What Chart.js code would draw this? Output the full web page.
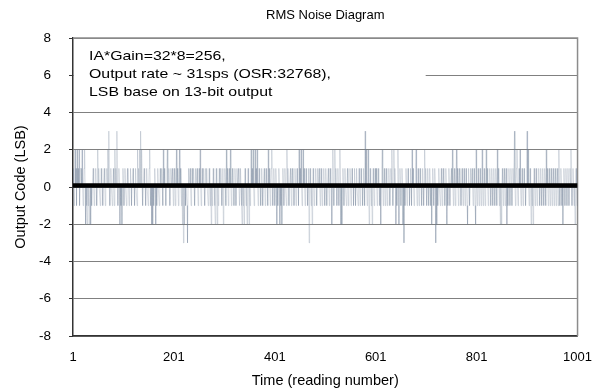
<!DOCTYPE html>
<html>
<head>
<meta charset="utf-8">
<script src="https://cdn.jsdelivr.net/npm/chart.js@4.4.1/dist/chart.umd.min.js"></script>
<style>
  html, body { margin: 0; padding: 0; background: #fff; }
  #wrap { width: 598px; height: 392px; }
</style>
</head>
<body>
<div id="wrap"><canvas id="graphique-bruit"></canvas></div>
<script>
/* Valeurs (code de sortie, LSB), lecture 1 à 1001 */
const noiseCodes = [
  1,0,-1,0,2,0,1,-1,2,0, 1,0,2,-1,0,1,1,0,2,0, -1,0,1,2,0,-2,0,-1,-2,0, -1,0,-2,-1,0,-2,0,-1,0,0, 1,0,-1,0,0,1,0,-1,0,2,
  0,1,0,0,-1,0,1,0,0,-1, 0,0,1,0,-1,0,0,1,0,2, 0,3,0,-1,0,1,0,0,-1,0, 1,0,-1,2,0,1,0,3,0,-1, 0,1,0,-2,0,-1,0,-2,0,1,
  0,-1,0,1,0,0,-1,0,1,0, 0,-1,0,0,1,0,-1,0,0,1, 0,0,-1,0,1,0,0,-1,2,0, 1,0,2,0,3,0,2,0,-1,0, 0,1,0,0,-1,0,1,0,0,-1,
  0,1,2,0,-1,0,-2,0,-2,0, -1,0,1,0,-2,0,-1,0,1,0, 0,-1,0,1,0,0,1,0,-1,2, 0,1,0,0,-1,0,1,2,0,0, 1,0,-1,0,1,0,0,1,0,-1,
  0,1,0,-1,0,2,0,1,0,-1, 0,2,0,1,0,-1,0,-2,0,-3, 0,-2,0,-1,0,0,-1,-3,0,1, 0,0,1,0,-1,0,1,0,0,1, 0,-1,0,1,0,0,1,0,-1,0,
  1,0,2,0,-1,0,1,0,0,1, 0,-1,0,1,0,1,0,0,-1,0, 1,0,-1,0,-2,0,-1,0,1,0, 0,-1,-2,0,1,0,-2,0,-1,0, 1,0,0,1,0,-1,0,1,-2,0,
  0,1,0,-1,2,0,1,0,-1,0, 1,0,2,0,-1,0,1,0,0,-1, 0,1,0,-1,0,1,0,0,1,0, -1,0,1,0,-1,-2,0,-1,0,-2, 0,1,0,-1,0,-2,0,1,0,-2,
  0,-1,0,2,0,1,0,2,0,-1, 0,2,0,1,0,2,0,-1,0,1, 0,0,-1,0,1,0,-1,0,0,1, 0,-1,0,1,0,0,-1,2,0,1, 0,-1,0,1,2,0,-1,0,1,0,
  -1,0,1,0,-2,0,-1,0,1,0, -2,0,-1,0,-2,0,1,0,-1,0, 1,0,0,-1,2,0,1,0,-1,0, 0,1,0,-1,0,1,0,0,-1,0, 1,0,-1,0,1,0,0,-1,2,0,
  1,0,2,0,-1,0,2,0,1,0, -1,0,1,0,0,-1,0,1,-3,0, 1,0,-1,0,-2,0,1,0,-1,0, 0,1,0,-1,0,1,0,0,1,0, -1,0,1,0,-1,0,0,1,0,-1,
  0,1,0,-1,0,0,1,0,-1,0, 1,0,0,-2,0,2,0,-1,0,2, 0,1,0,-1,0,1,0,-1,0,2, 0,-2,0,-2,0,1,0,-1,0,1, 0,0,-1,0,1,0,-1,0,0,1,
  0,-1,0,1,0,0,-1,0,1,0, -1,0,1,0,0,-1,0,1,0,-1, 0,1,0,0,-1,0,1,0,-1,3, 0,2,0,-1,0,2,0,-2,0,1, 0,-1,0,-2,0,1,0,-1,0,1,
  0,1,0,-1,0,1,0,0,-1,0, -2,0,1,2,0,-1,0,1,0,-1, 0,1,0,-1,0,0,1,0,-1,0, 1,0,2,0,-1,0,2,0,1,0, -2,0,-1,0,2,0,-2,0,1,0,
  -1,0,1,0,-2,0,-3,0,-1,0, 1,0,-1,0,1,0,0,-1,0,1, 0,-1,2,0,1,0,-1,0,0,1, 2,0,-1,0,1,0,-1,0,1,0, 0,-1,0,1,0,-1,0,2,0,1,
  0,-1,0,1,0,-1,0,1,0,-1, 0,-2,0,1,0,-1,0,1,0,-3, 0,-2,0,-1,0,1,0,0,-1,0, 1,0,-1,0,1,0,0,-1,0,1, 0,-2,0,-1,0,1,0,-1,0,0,
  1,0,2,0,-1,0,1,0,-1,0, 2,0,1,0,-1,0,1,0,0,-1, 0,1,0,-1,0,1,0,-1,0,1, 0,-1,-2,0,1,0,-1,0,1,0, 0,1,0,-1,0,1,0,-1,-2,2,
  0,-1,0,1,0,-1,0,1,0,-1, 0,2,0,-1,0,1,0,-1,0,2, 0,1,0,-1,0,0,1,0,-1,0, 1,0,-1,0,1,0,-1,0,1,0, -1,2,0,1,0,-1,0,-2,0,-2,
  0,1,0,-1,0,1,0,-1,0,1, -2,0,-1,0,1,0,-1,0,1,0, -1,0,1,0,1,3,0,-1,0,1, 2,0,-1,0,1,0,2,0,-1,0, 1,0,-1,0,1,0,0,-1,0,1,
  3,0,2,0,-1,0,1,0,-2,0, -1,0,-2,0,1,0,-1,0,1,0, -1,0,0,1,0,-1,0,1,0,-1, 0,1,0,-1,0,1,0,-1,2,0, 1,0,-1,0,1,0,-1,0,1,0,
  -1,0,1,0,-1,0,1,0,-1,0, 1,0,-1,2,0,-1,0,1,0,-1, 0,-2,0,1,0,-1,0,1,0,-1, 0,1,0,-1,0,1,0,2,0,-1, 0,1,0,-1,0,-2,0,1,0,-1,
  0
];

/* Moyenne (trait noir épais) */
const meanCode = 0.08;

/* Graduations */
const xTickValues = [1, 201, 401, 601, 801, 1001];
const yMin = -8;
const yMax = 8;
const yStep = 2;

/* Texte de l'encadré */
const noteLines = [
  'IA*Gain=32*8=256,',
  'Output rate ~ 31sps (OSR:32768),',
  'LSB base on 13-bit output'
];

const police = 'Arial, "Liberation Sans", sans-serif';

// Encadré blanc + cadre haut/droit gris
const encadrePlugin = {
  id: 'encadre',
  beforeDatasetsDraw(chart) {
    const {ctx, chartArea, scales} = chart;
    const x = scales.x;
    const y = scales.y;
    ctx.save();
    // le fond blanc masque la grille à 6
    ctx.fillStyle = '#fff';
    const x0 = chartArea.left + 1;
    const x1 = x.getPixelForValue(700);
    const yTop = y.getPixelForValue(7.9);
    const yBas = y.getPixelForValue(4.5);
    ctx.fillRect(x0, yTop, x1 - x0, yBas - yTop);
    // cadre haut et droit
    ctx.strokeStyle = '#8c8c8c';
    ctx.lineWidth = 1.5;
    ctx.beginPath();
    ctx.moveTo(chartArea.left, chartArea.top);
    ctx.lineTo(chartArea.right, chartArea.top);
    ctx.lineTo(chartArea.right, chartArea.bottom);
    ctx.stroke();
    ctx.restore();
  },
  afterDatasetsDraw(chart) {
    const {ctx, chartArea, scales} = chart;
    ctx.save();
    ctx.fillStyle = '#000';
    ctx.textBaseline = 'middle';
    ctx.font = '13px ' + police;
    const yPremier = scales.y.getPixelForValue(7.0);
    noteLines.forEach((ligne, i) => {
      ctx.save();
      ctx.translate(chartArea.left + 16, yPremier + i * 18);
      ctx.scale(1.22, 1);
      ctx.fillText(ligne, 0, 0);
      ctx.restore();
    });
    ctx.restore();
  }
};

const data = {
  datasets: [
    {
      label: 'Mean',
      data: [{x: xTickValues[0], y: meanCode}, {x: xTickValues[xTickValues.length - 1], y: meanCode}],
      borderColor: '#000',
      borderWidth: 4.5,
      pointRadius: 0
    },
    {
      label: 'Noise',
      data: noiseCodes.map((v, i) => ({x: i + 1, y: v})),
      borderColor: 'rgba(110, 125, 150, 0.32)',
      borderWidth: 0.8,
      pointRadius: 0,
      tension: 0
    }
  ]
};

const options = {
  responsive: true,
  maintainAspectRatio: false,
  animation: false,
  layout: { padding: { left: 0, right: 18, top: 0, bottom: 0 } },
  plugins: {
    legend: { display: false },
    tooltip: { enabled: false },
    title: {
      display: true,
      fullSize: false,
      text: 'RMS Noise Diagram',
      color: '#000',
      font: { family: police, size: 13, weight: 'normal' },
      padding: { top: 8, bottom: 14.4 }
    }
  },
  scales: {
    x: {
      type: 'linear',
      min: xTickValues[0],
      max: xTickValues[xTickValues.length - 1],
      afterBuildTicks: s => { s.ticks = xTickValues.map(v => ({value: v})); },
      afterFit: s => { s.height = 56; },
      grid: { display: false },
      border: { color: '#333', width: 1.5 },
      ticks: {
        color: '#000',
        padding: 6,
        maxRotation: 0,
        callback: v => String(v),
        font: { family: police, size: 13 }
      },
      title: {
        display: true,
        text: 'Time (reading number)',
        color: '#000',
        font: { family: police, size: 14.5 },
        padding: { top: 0, bottom: 2 }
      }
    },
    y: {
      min: yMin,
      max: yMax,
      afterFit: s => { s.width = 73; },
      border: { color: '#333', width: 1.5 },
      grid: {
        color: '#808080',
        lineWidth: 1,
        tickLength: 4,
        tickColor: '#333'
      },
      ticks: {
        stepSize: yStep,
        color: '#000',
        padding: 18,
        font: { family: police, size: 13.5 }
      },
      title: {
        display: true,
        text: 'Output Code (LSB)',
        color: '#000',
        font: { family: police, size: 14.5 },
        padding: { top: 12, bottom: 0 }
      }
    }
  }
};

const ctx = document.getElementById('graphique-bruit').getContext('2d');
const graphique = new Chart(ctx, { type: 'line', data, options, plugins: [encadrePlugin] });
</script>
</body>
</html>
